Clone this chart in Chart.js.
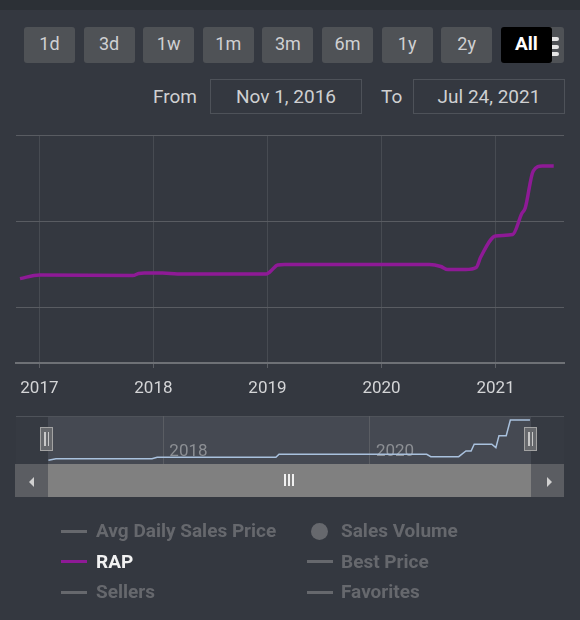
<!DOCTYPE html>
<html>
<head>
<meta charset="utf-8">
<script src="https://cdn.jsdelivr.net/npm/chart.js@4.4.0/dist/chart.umd.min.js"></script>
<style>
body { margin:0; background:#343840; font-family: Roboto, "Noto Sans", sans-serif; }
#page { position:relative; width:580px; height:620px; overflow:hidden; background:#343840; }
.strip { position:absolute; left:0; top:0; width:580px; height:10px; background:#2c3036; }
.btn { position:absolute; top:27px; width:51px; height:36px; background:#4f5256; color:#cfd0d2; font-size:18px; line-height:34px; text-align:center; border-radius:3px; }
.btn.sel { background:#000; color:#fff; font-weight:bold; font-size:19px; }
.ctx { position:absolute; left:520px; top:27px; width:44px; height:36px; background:#4f5256; border-radius:3px; }
.bar { position:absolute; left:545px; width:14px; height:4px; background:#e6e6e6; border-radius:2px; }
.lbl { position:absolute; top:84px; font-size:19px; color:#cfd0d2; line-height:25px; }
.box { position:absolute; top:79px; height:33px; width:150px; border:1px solid #4e5259; color:#cfd0d2; font-size:19px; line-height:33px; text-align:center; }
canvas { position:absolute; left:0; }
.nav-out { position:absolute; top:416px; height:48px; background:#363a42; }
.nav-in { position:absolute; top:416px; height:48px; left:48px; width:483px; background:#454952; }
.nav-top { position:absolute; top:416px; left:16px; width:548px; height:1px; background:#4f535a; }
.sb-btn { position:absolute; top:464px; height:33px; width:33px; background:#5b5d62; }
.sb-thumb { position:absolute; top:464px; height:33px; left:48px; width:483px; background:#808080; }
.grip { position:absolute; top:474px; width:2px; height:12px; background:#f0f0f0; }
.handle { position:absolute; top:427px; width:11px; height:22px; background:#66686c; border:1.5px solid #a3a3a3; }
.handle i { position:absolute; top:4px; width:1.5px; height:14px; background:#c8c8c8; }
.leg { position:absolute; font-size:19px; font-weight:bold; color:#66686d; line-height:24px; }
.leg.on { color:#f2f2f2; }
.sym { position:absolute; width:26px; height:3px; background:#66686d; }
.dot { position:absolute; width:17px; height:17px; border-radius:50%; background:#66686d; }
</style>
</head>
<body>
<div id="page">
  <div class="strip"></div>
  <div class="ctx"></div>
  <div class="bar" style="top:37px"></div>
  <div class="bar" style="top:45px"></div>
  <div class="bar" style="top:52px"></div>
  <div id="buttons"></div>
  <div class="lbl" style="left:153px">From</div>
  <div class="box" style="left:210px">Nov 1, 2016</div>
  <div class="lbl" style="left:381px">To</div>
  <div class="box" style="left:413px">Jul 24, 2021</div>

  <canvas id="mainChart" width="580" height="290" style="top:120px"></canvas>

  <div class="nav-out" style="left:16px;width:32px"></div>
  <div class="nav-out" style="left:531px;width:33px"></div>
  <div class="nav-in"></div>
  <div class="nav-top"></div>
  <canvas id="navChart" width="580" height="48" style="top:416px"></canvas>
  <div class="handle" style="left:40px"><i style="left:3px"></i><i style="left:6.5px"></i></div>
  <div class="handle" style="left:524px"><i style="left:3px"></i><i style="left:6.5px"></i></div>

  <div class="sb-btn" style="left:15px"></div>
  <div class="sb-thumb"></div>
  <div class="sb-btn" style="left:531px"></div>
  <svg style="position:absolute;left:28px;top:477px" width="8" height="10"><polygon points="6,0 6,10 1,5" fill="#d0d0d0"/></svg>
  <svg style="position:absolute;left:545px;top:477px" width="8" height="10"><polygon points="2,0 2,10 7,5" fill="#d0d0d0"/></svg>
  <div class="grip" style="left:284px"></div>
  <div class="grip" style="left:288px"></div>
  <div class="grip" style="left:292px"></div>

  <div id="legend"></div>
</div>
<script>
// range selector + legend text
const rangeButtons = ['1d', '3d', '1w', '1m', '3m', '6m', '1y', '2y', 'All'];
const legendNames = ['Avg Daily Sales Price', 'RAP', 'Sellers', 'Sales Volume', 'Best Price', 'Favorites'];
const shownSeries = 'RAP';

// main chart: RAP (x in decimal years)
const rapYears = [2016.83, 2017.00, 2017.82, 2017.87, 2017.92, 2018.08, 2018.21, 2018.99, 2019.02, 2019.09, 2019.15,
  2020.42, 2020.52, 2020.58, 2020.74, 2020.83, 2020.87, 2021.00, 2021.15, 2021.23, 2021.26, 2021.33, 2021.41, 2021.51];
const rapValues = [13300, 13720, 13660, 13900, 13950, 13950, 13840, 13840, 14070, 14880, 14940,
  14940, 14710, 14360, 14360, 14590, 15810, 18260, 18430, 20870, 21510, 25810, 26400, 26400];
const yearTicks = [2017, 2018, 2019, 2020, 2021];
const valueTicks = [10000, 20000, 30000];

// navigator series
const navYears = [2016.887, 2016.96, 2017.89, 2017.94, 2019.09, 2019.12, 2020.55, 2020.59, 2020.86, 2020.93,
  2020.98, 2021.01, 2021.18, 2021.22, 2021.25, 2021.32, 2021.36, 2021.55];
const navValues = [13200, 13700, 13700, 14160, 14160, 15140, 15140, 14360, 14360, 16230,
  16230, 18430, 18430, 17310, 21250, 21250, 26400, 26400];
const navTicks = [2018, 2020];

const btnWrap = document.getElementById('buttons');
rangeButtons.forEach((b, i) => {
  const d = document.createElement('div');
  d.className = 'btn' + (b === 'All' ? ' sel' : '');
  d.style.left = (24 + i * 59.6) + 'px';
  d.textContent = b;
  btnWrap.appendChild(d);
});

const legWrap = document.getElementById('legend');
legendNames.forEach((name, i) => {
  const col = Math.floor(i / 3), row = i % 3;
  const cy = 531 + row * 30.5;
  const sx = col ? 307 : 61, tx = col ? 341 : 96;
  const s = document.createElement('div');
  if (name === 'Sales Volume') {
    s.className = 'dot';
    s.style.left = (sx + 4) + 'px';
    s.style.top = (cy - 8.5) + 'px';
  } else {
    s.className = 'sym';
    s.style.left = sx + 'px';
    s.style.top = (cy - 1.5) + 'px';
    if (name === shownSeries) s.style.background = '#8e1a96';
  }
  legWrap.appendChild(s);
  const t = document.createElement('div');
  t.className = 'leg' + (name === shownSeries ? ' on' : '');
  t.style.left = tx + 'px';
  t.style.top = (cy - 12) + 'px';
  t.textContent = name;
  legWrap.appendChild(t);
});

Chart.defaults.font.family = 'Roboto';

new Chart(document.getElementById('mainChart'), {
  type: 'line',
  data: {
    datasets: [{
      label: 'RAP',
      data: rapYears.map((x, i) => ({ x: x, y: rapValues[i] })),
      borderColor: '#8e1a96',
      borderWidth: 3.5,
      pointRadius: 0,
      cubicInterpolationMode: 'monotone'
    }]
  },
  options: {
    responsive: false,
    animation: false,
    devicePixelRatio: 1,
    layout: { padding: { left: 16, right: 16, top: 15, bottom: 0 } },
    plugins: { legend: { display: false }, tooltip: { enabled: false } },
    scales: {
      x: {
        type: 'linear',
        min: 2016.795,
        max: 2021.60,
        afterBuildTicks: s => { s.ticks = yearTicks.map(v => ({ value: v })); },
        afterFit: s => { s.height = 47; },
        grid: { color: '#474b52', lineWidth: 1, tickLength: 5, drawTicks: true, tickColor: '#5d6066' },
        border: { color: '#6e7176', width: 2 },
        ticks: { color: '#d4d5d7', font: { size: 17 }, padding: 11, maxRotation: 0, callback: v => String(v) }
      },
      y: {
        min: 3490,
        max: 30000,
        afterBuildTicks: s => { s.ticks = valueTicks.map(v => ({ value: v })); },
        afterFit: s => { s.width = 0; },
        grid: { color: '#595c62', lineWidth: 1, drawTicks: false },
        border: { display: false },
        ticks: { display: false }
      }
    }
  }
});

const navLabels = {
  id: 'navLabels',
  beforeDatasetsDraw(chart) {
    const ctx = chart.ctx, x = chart.scales.x;
    ctx.save();
    ctx.font = '17px Roboto';
    ctx.fillStyle = '#8c8f94';
    ctx.textBaseline = 'middle';
    navTicks.forEach(v => ctx.fillText(String(v), x.getPixelForValue(v) + 6, 36));
    ctx.restore();
  }
};

new Chart(document.getElementById('navChart'), {
  type: 'line',
  data: {
    datasets: [{
      data: navYears.map((x, i) => ({ x: x, y: navValues[i] })),
      borderColor: '#a9c1dd',
      borderWidth: 1.5,
      pointRadius: 0,
      tension: 0
    }]
  },
  options: {
    responsive: false,
    animation: false,
    devicePixelRatio: 1,
    layout: { padding: { left: 48, right: 49, top: 0, bottom: 0 } },
    plugins: { legend: { display: false }, tooltip: { enabled: false } },
    scales: {
      x: {
        type: 'linear',
        min: 2016.883,
        max: 2021.56,
        afterBuildTicks: s => { s.ticks = navTicks.map(v => ({ value: v })); },
        afterFit: s => { s.height = 0; },
        grid: { color: '#5a5d63', drawTicks: false },
        border: { display: false },
        ticks: { display: false }
      },
      y: {
        display: false,
        min: 11960,
        max: 27710
      }
    }
  },
  plugins: [navLabels]
});
</script>
</body>
</html>
